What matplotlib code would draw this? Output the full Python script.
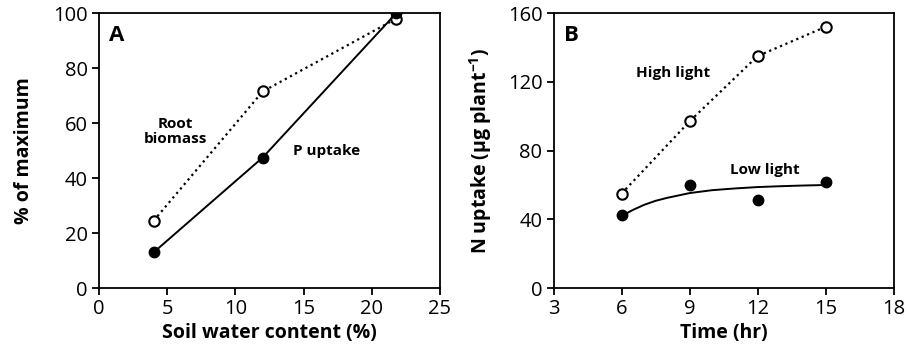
import matplotlib
matplotlib.use('Agg')
import matplotlib.pyplot as plt

plt.rcParams['font.family'] = ['Open Sans', 'DejaVu Sans']
plt.rcParams['mathtext.fontset'] = 'custom'
plt.rcParams['mathtext.bf'] = 'Open Sans:bold'

# panel A: soil water content
water = [4, 12, 21.8]
root_biomass = [24.5, 71.5, 98]
p_uptake = [13, 47.5, 100]

# panel B: time course of N uptake
hours = [6, 9, 12, 15]
high_light = [55, 97, 135, 152]
low_light = [42.5, 60, 51.5, 62]
# fitted curve through low light points
fit_hours = [6, 6.5, 7, 7.5, 8, 9, 10, 11, 12, 13, 14, 15]
fit_low = [42, 45.5, 48.5, 50.8, 52.5, 55.3, 57, 58, 58.8, 59.3, 59.7, 60]

fig = plt.figure(figsize=(9.09, 3.54), dpi=100)
axA = fig.add_axes([0.109, 0.186, 0.375, 0.777])
axB = fig.add_axes([0.609, 0.186, 0.374, 0.777])

ms = 7.5
axA.plot(water, root_biomass, ':', color='k', lw=1.6, marker='o', mfc='white', mec='k', mew=1.5, ms=ms)
axA.plot(water, p_uptake, '-', color='k', lw=1.4, marker='o', mfc='k', mec='k', ms=ms)
axA.set_xlim(0, 25)
axA.set_ylim(0, 100)
axA.set_xticks([0, 5, 10, 15, 20, 25])
axA.set_yticks([0, 20, 40, 60, 80, 100])
axA.set_xlabel('Soil water content (%)', fontweight='bold', fontsize=14, labelpad=3)
axA.set_ylabel('% of maximum', fontweight='bold', fontsize=14, labelpad=14)
axA.text(0.03, 0.955, 'A', transform=axA.transAxes, fontweight='bold', fontsize=16, va='top')
axA.text(5.6, 57, 'Root\nbiomass', ha='center', va='center', fontweight='bold', fontsize=11, linespacing=1.05)
axA.text(16.7, 50, 'P uptake', ha='center', va='center', fontweight='bold', fontsize=11)

axB.plot(hours, high_light, ':', color='k', lw=1.6, marker='o', mfc='white', mec='k', mew=1.5, ms=ms)
axB.plot(fit_hours, fit_low, '-', color='k', lw=1.4)
axB.plot(hours, low_light, 'o', mfc='k', mec='k', ms=ms)
axB.set_xlim(3, 18)
axB.set_ylim(0, 160)
axB.set_xticks([3, 6, 9, 12, 15, 18])
axB.set_yticks([0, 40, 80, 120, 160])
axB.set_xlabel('Time (hr)', fontweight='bold', fontsize=14, labelpad=3)
axB.set_ylabel('N uptake (µg plant$^{\\mathbf{-1}}$)', fontweight='bold', fontsize=14, labelpad=10)
axB.text(0.03, 0.955, 'B', transform=axB.transAxes, fontweight='bold', fontsize=16, va='top')
axB.text(8.25, 125, 'High light', ha='center', va='center', fontweight='bold', fontsize=11)
axB.text(12.3, 69, 'Low light', ha='center', va='center', fontweight='bold', fontsize=11)

for ax in (axA, axB):
    for s in ax.spines.values():
        s.set_linewidth(1.3)
    ax.tick_params(direction='out', length=5, width=1.3, labelsize=14.5, pad=3)
    ax.tick_params(axis='x', top=False)
    ax.tick_params(axis='y', right=False)

fig.savefig('out.png', dpi=100)
